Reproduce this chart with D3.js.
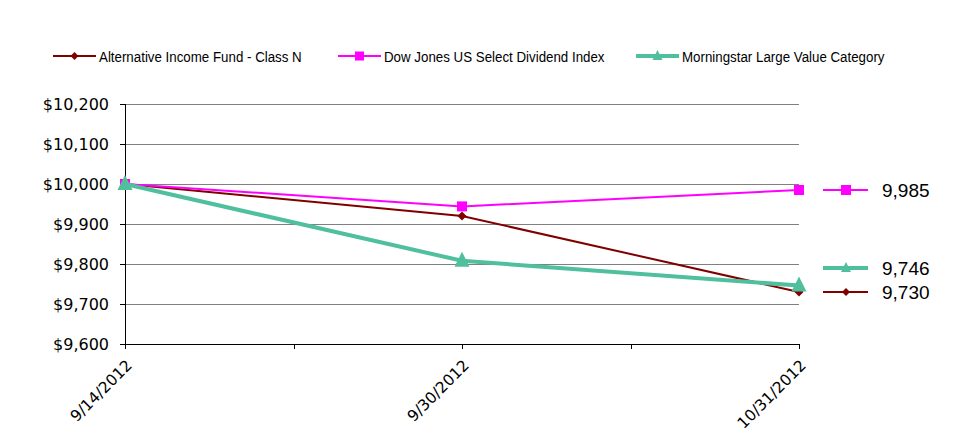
<!DOCTYPE html>
<html><head><meta charset="utf-8">
<script src="https://cdn.jsdelivr.net/npm/d3@7"></script>
<style>body{margin:0;background:#fff}svg{display:block}</style>
</head><body>
<svg id="c" width="975" height="440"></svg>
<script>
const dates = ["9/14/2012", "9/30/2012", "10/31/2012"];
const seriesNames = ["Alternative Income Fund - Class N", "Dow Jones US Select Dividend Index", "Morningstar Large Value Category"];
const fundValues = [10000, 9920, 9730];
const dowValues = [10000, 9944, 9985];
const msValues = [10000, 9808, 9746];
const yTicks = [9600, 9700, 9800, 9900, 10000, 10100, 10200];
const endLabels = ["9,730", "9,985", "9,746"];

const svg = d3.select("#c");
const m = {left:125, right:799, top:104, bottom:344};
const x = d3.scalePoint().domain(dates).range([m.left, m.right]);
const y = d3.scaleLinear().domain([9600, 10200]).range([m.bottom, m.top]);

const styles = [
  {color:"#800000", width:2, marker:"diamond", size:7},
  {color:"#FF00FF", width:2, marker:"square", size:10},
  {color:"#4FBF9E", width:4, marker:"triangle", size:15}
];
const data = [fundValues, dowValues, msValues];

// grid
svg.append("g").selectAll("line").data(yTicks.filter(d=>d>9600)).join("line")
  .attr("x1", m.left).attr("x2", m.right).attr("y1", d=>y(d)).attr("y2", d=>y(d))
  .attr("stroke", "#808080").attr("stroke-width", 1).attr("shape-rendering","crispEdges");

// y axis
const ya = svg.append("g").attr("transform", `translate(${m.left},0)`)
  .call(d3.axisLeft(y).tickValues(yTicks).tickSize(5).tickPadding(11).tickFormat(d=>"$"+d3.format(",")(d)));
ya.select(".domain").attr("stroke","#000").attr("shape-rendering","crispEdges");
ya.selectAll("line").attr("stroke","#000").attr("shape-rendering","crispEdges");
ya.selectAll("text").attr("font-family","'DejaVu Sans', sans-serif").attr("font-size","16px").attr("fill","#000");

// x axis
const xa = svg.append("g").attr("transform", `translate(0,${m.bottom})`)
  .call(d3.axisBottom(x).tickSize(5).tickPadding(4).tickSizeOuter(0));
xa.select(".domain").attr("stroke","#000").attr("shape-rendering","crispEdges");
xa.selectAll("line").attr("stroke","#000").attr("shape-rendering","crispEdges");
xa.selectAll("text").attr("font-family","'DejaVu Sans', sans-serif").attr("font-size","15.5px").attr("fill","#000")
  .attr("text-anchor","end").attr("dy","0").attr("transform","translate(1,16) rotate(-45)");
// minor ticks at midpoints
const mids = [];
for (let i=0;i<dates.length-1;i++) mids.push((x(dates[i])+x(dates[i+1]))/2);
svg.append("g").selectAll("line").data(mids).join("line")
  .attr("x1",d=>Math.round(d)+0.5).attr("x2",d=>Math.round(d)+0.5).attr("y1",m.bottom).attr("y2",m.bottom+5).attr("stroke","#000");

function marker(g, type, size, color, cx, cy){
  if (type==="square") g.append("rect").attr("x",cx-size/2).attr("y",cy-size/2).attr("width",size).attr("height",size).attr("fill",color);
  else if (type==="diamond") g.append("path").attr("d",`M${cx},${cy-size/2-1}L${cx+size/2+1},${cy}L${cx},${cy+size/2+1}L${cx-size/2-1},${cy}Z`).attr("fill",color);
  else g.append("path").attr("d",`M${cx},${cy-size*0.6}L${cx+size/2},${cy+size*0.4}L${cx-size/2},${cy+size*0.4}Z`).attr("fill",color);
}

const line = d3.line().x((d,i)=>x(dates[i])).y(d=>y(d));
data.forEach((vals, k)=>{
  const s = styles[k];
  const g = svg.append("g");
  g.append("path").datum(vals).attr("d", line).attr("fill","none").attr("stroke",s.color).attr("stroke-width",s.width);
  vals.forEach((v,i)=>marker(g, s.marker, s.size, s.color, x(dates[i]), y(v)));
});

// top legend
const legX = [53, 338, 636];
seriesNames.forEach((n,k)=>{
  const s = styles[k];
  const g = svg.append("g");
  const lx = legX[k], ly = 56;
  g.append("line").attr("x1",lx).attr("x2",lx+43).attr("y1",ly).attr("y2",ly).attr("stroke",s.color).attr("stroke-width",s.width);
  marker(g, s.marker, k===2?10:(k===1?9:6), s.color, lx+21.5, ly);
  g.append("text").attr("transform",`translate(${lx+46},${ly+5.5}) scale(0.86,1)`).text(n)
    .attr("font-family","'Liberation Sans', Arial, sans-serif").attr("font-size","15.5px").attr("fill","#000");
});

// right-end labels
const endY = [292, 190, 268];
data.forEach((vals,k)=>{
  const s = styles[k];
  const g = svg.append("g");
  const ly = endY[k];
  g.append("line").attr("x1",823).attr("x2",868).attr("y1",ly).attr("y2",ly).attr("stroke",s.color).attr("stroke-width",s.width);
  marker(g, s.marker, k===2?10:(k===1?10:6), s.color, 846, ly);
  g.append("text").attr("x",882).attr("y",ly+7).text(endLabels[k])
    .attr("font-family","'Liberation Sans', Arial, sans-serif").attr("font-size","19px").attr("fill","#000");
});
</script>
</body></html>
